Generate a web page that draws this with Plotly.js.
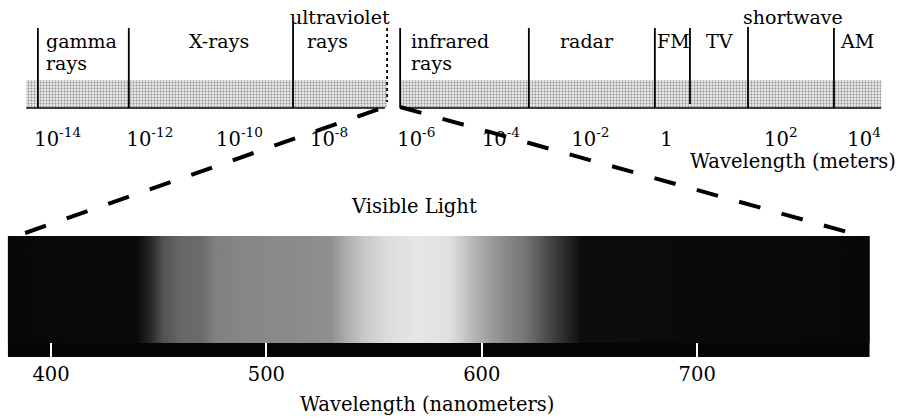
<!DOCTYPE html>
<html><head><meta charset="utf-8">
<script src="https://cdn.plot.ly/plotly-3.0.1.min.js"></script>
<style>html,body{margin:0;padding:0;background:#fff}#chart{width:899px;height:420px}</style>
</head><body><div id="chart"></div>
<script>
// ---------- data ----------
// top diagram: positions along the diagram's wavelength scale (log10 metres)
const bandNames  = ['gamma rays', 'X-rays', 'ultraviolet rays', 'infrared rays', 'radar', 'FM', 'TV', 'shortwave', 'AM'];
const bandEdges  = [-14.38, -12.36, -8.71, -6.62, -6.33, -3.47, -0.67, 0.11, 1.40, 3.31];
const bandExtent = [-14.64, 4.36];
const tickPos    = [-13.94, -11.89, -9.90, -7.91, -5.97, -4.09, -2.10, -0.41, 2.13, 3.98];
const tickLabels = ['10<sup>-14</sup>', '10<sup>-12</sup>', '10<sup>-10</sup>', '10<sup>-8</sup>', '10<sup>-6</sup>',
                    '10<sup>-4</sup>', '10<sup>-2</sup>', '1', '10<sup>2</sup>', '10<sup>4</sup>'];
// bottom bar: visible light, wavelength in nanometres
const visibleNm     = [380, 780];
const spectrumNm    = [380, 440, 446, 452, 460, 470, 476, 490, 510, 530, 536, 545, 555, 570, 585, 592, 600, 610, 620, 630, 640, 646, 700, 780];
const spectrumLevel = [0.03, 0.04, 0.15, 0.32, 0.40, 0.42, 0.50, 0.53, 0.54, 0.56, 0.66, 0.78, 0.86, 0.90, 0.88, 0.78, 0.66, 0.55, 0.46, 0.30, 0.15, 0.05, 0.04, 0.03];
const nmTicks       = [400, 500, 600, 700];
const zoomFrom = [-6.67, -6.33];   // where the connectors leave the top scale
const zoomTo   = [388, 773];       // where they reach the visible bar (nm)

// ---------- layout constants ----------
const W = 899, H = 420;
const FONT = 'DejaVu Serif';
const expRange = [-15.2222, 4.7556];
const nmRange  = [376.32, 793.67];
const Y = {bandTop: 80, base: 108, barTop: 236, gradBottom: 343, barBottom: 357};
const lineTops    = [28, 28, 22, 28, 28, 28, 28, 28, 27, 28];
const lineBottoms = [108, 108, 108, 102, 108, 108, 108, 104, 108, 108];
const lineDash    = ['solid', 'solid', 'solid', 'dot', 'solid', 'solid', 'solid', 'solid', 'solid', 'solid'];

const expToPaper = e => (e - expRange[0]) / (expRange[1] - expRange[0]);
const nmToPaper  = w => (w - nmRange[0]) / (nmRange[1] - nmRange[0]);

const gray = v => { const c = Math.round(v * 255); return `rgb(${c},${c},${c})`; };
const colorscale = spectrumNm.map((w, i) => [(w - visibleNm[0]) / (visibleNm[1] - visibleNm[0]), gray(spectrumLevel[i])]);

const bandPattern = {shape: '.', size: 3, solidity: 0.3, fgcolor: '#909090', bgcolor: '#e6e6e6'};
const rectX = (a, b) => [a, b, b, a, a];
const rectY = (a, b) => [a, a, b, b, a];

const traces = [
  {type: 'scatter', mode: 'none', xaxis: 'x', yaxis: 'y', fill: 'toself', fillcolor: '#dadada', fillpattern: bandPattern,
   x: rectX(bandExtent[0], bandEdges[3]), y: rectY(Y.bandTop, Y.base), hoverinfo: 'skip', showlegend: false},
  {type: 'scatter', mode: 'none', xaxis: 'x', yaxis: 'y', fill: 'toself', fillcolor: '#dadada', fillpattern: bandPattern,
   x: rectX(bandEdges[4], bandExtent[1]), y: rectY(Y.bandTop, Y.base), hoverinfo: 'skip', showlegend: false},
  {type: 'scatter', mode: 'none', xaxis: 'x2', yaxis: 'y', fill: 'toself', fillcolor: '#050505',
   x: rectX(visibleNm[0], visibleNm[1]), y: rectY(Y.barTop, Y.barBottom), hoverinfo: 'skip', showlegend: false},
  {type: 'scatter', mode: 'none', xaxis: 'x2', yaxis: 'y', fill: 'toself',
   fillgradient: {type: 'horizontal', colorscale: colorscale, start: visibleNm[0], stop: visibleNm[1]},
   x: rectX(visibleNm[0], visibleNm[1]), y: rectY(Y.barTop, Y.gradBottom), hoverinfo: 'skip', showlegend: false}
];

const shapes = [];
bandEdges.forEach((e, i) => shapes.push({type: 'line', xref: 'x', yref: 'y', x0: e, x1: e, y0: lineTops[i], y1: lineBottoms[i],
  line: {color: '#000', width: 1.8, dash: lineDash[i]}}));
shapes.push({type: 'line', xref: 'x', yref: 'y', x0: bandExtent[0], x1: zoomFrom[0], y0: Y.base, y1: Y.base, line: {color: '#000', width: 1.6}});
shapes.push({type: 'line', xref: 'x', yref: 'y', x0: bandEdges[4], x1: bandExtent[1], y0: Y.base, y1: Y.base, line: {color: '#000', width: 1.6}});
const conn = {color: '#000', width: 4, dash: '22px,22px'};
shapes.push({type: 'line', xref: 'paper', yref: 'y', x0: nmToPaper(zoomTo[0]), y0: 233, x1: expToPaper(zoomFrom[0]), y1: 107, line: conn});
shapes.push({type: 'line', xref: 'paper', yref: 'y', x0: expToPaper(zoomFrom[1]), y0: 107, x1: nmToPaper(zoomTo[1]), y1: 234, line: conn});

// band labels (pixel positions in the 899x420 picture)
const R0 = 17, R1 = 40.5, R2 = 63;
const bandLabelLayout = [
  {text: 'gamma', x: 45, y: R1, a: 'left'},
  {text: 'rays', x: 45, y: R2, a: 'left'},
  {text: 'X-rays', x: 218.5, y: R1, a: 'center'},
  {text: 'ultraviolet', x: 289, y: R0, a: 'left'},
  {text: 'rays', x: 306, y: R1, a: 'left'},
  {text: 'infrared', x: 410, y: R1, a: 'left'},
  {text: 'rays', x: 410, y: R2, a: 'left'},
  {text: 'radar', x: 587, y: R1, a: 'center'},
  {text: 'FM', x: 656, y: R1, a: 'left'},
  {text: 'TV', x: 719, y: R1, a: 'center'},
  {text: 'shortwave', x: 742, y: R0, a: 'left'},
  {text: 'AM', x: 839, y: R1, a: 'left'}
];
const font = s => ({family: FONT, size: s, color: '#000'});
const annotations = bandLabelLayout.map(l => ({text: l.text, xref: 'paper', yref: 'y', x: l.x / W, y: l.y,
  xanchor: l.a, yanchor: 'middle', showarrow: false, font: font(19), borderpad: 0}));
annotations.push({text: 'Visible Light', xref: 'paper', yref: 'y', x: 413.5 / W, y: 206.4, xanchor: 'center', yanchor: 'middle', showarrow: false, font: font(19.5), borderpad: 0});
annotations.push({text: 'Wavelength (meters)', xref: 'paper', yref: 'y', x: 897 / W, y: 161, xanchor: 'right', yanchor: 'middle', showarrow: false, font: font(19.5), borderpad: 0});
annotations.push({text: 'Wavelength (nanometers)', xref: 'paper', yref: 'y', x: 427 / W, y: 404, xanchor: 'center', yanchor: 'middle', showarrow: false, font: font(19.5), borderpad: 0});

const layout = {
  width: W, height: H, margin: {l: 0, r: 0, t: 0, b: 0},
  paper_bgcolor: '#fff', plot_bgcolor: '#fff', showlegend: false,
  xaxis: {domain: [0, 1], range: expRange, anchor: 'free', position: 1 - Y.base / H,
    tickmode: 'array', tickvals: tickPos, ticktext: tickLabels, ticks: '', showgrid: false, zeroline: false, showline: false,
    tickfont: font(19.5), ticklabelstandoff: 17, fixedrange: true},
  xaxis2: {domain: [0, 1], range: nmRange, overlaying: 'x', anchor: 'free', position: 1 - Y.barBottom / H, side: 'bottom',
    tickmode: 'array', tickvals: nmTicks, ticks: 'inside', ticklen: 14, tickwidth: 2, tickcolor: '#fff',
    showgrid: false, zeroline: false, showline: false, tickfont: font(19.5), ticklabelstandoff: 3, fixedrange: true},
  yaxis: {domain: [0, 1], range: [H, 0], visible: false, fixedrange: true},
  shapes: shapes, annotations: annotations
};

Plotly.newPlot('chart', traces, layout, {staticPlot: true, displayModeBar: false});
</script></body></html>
